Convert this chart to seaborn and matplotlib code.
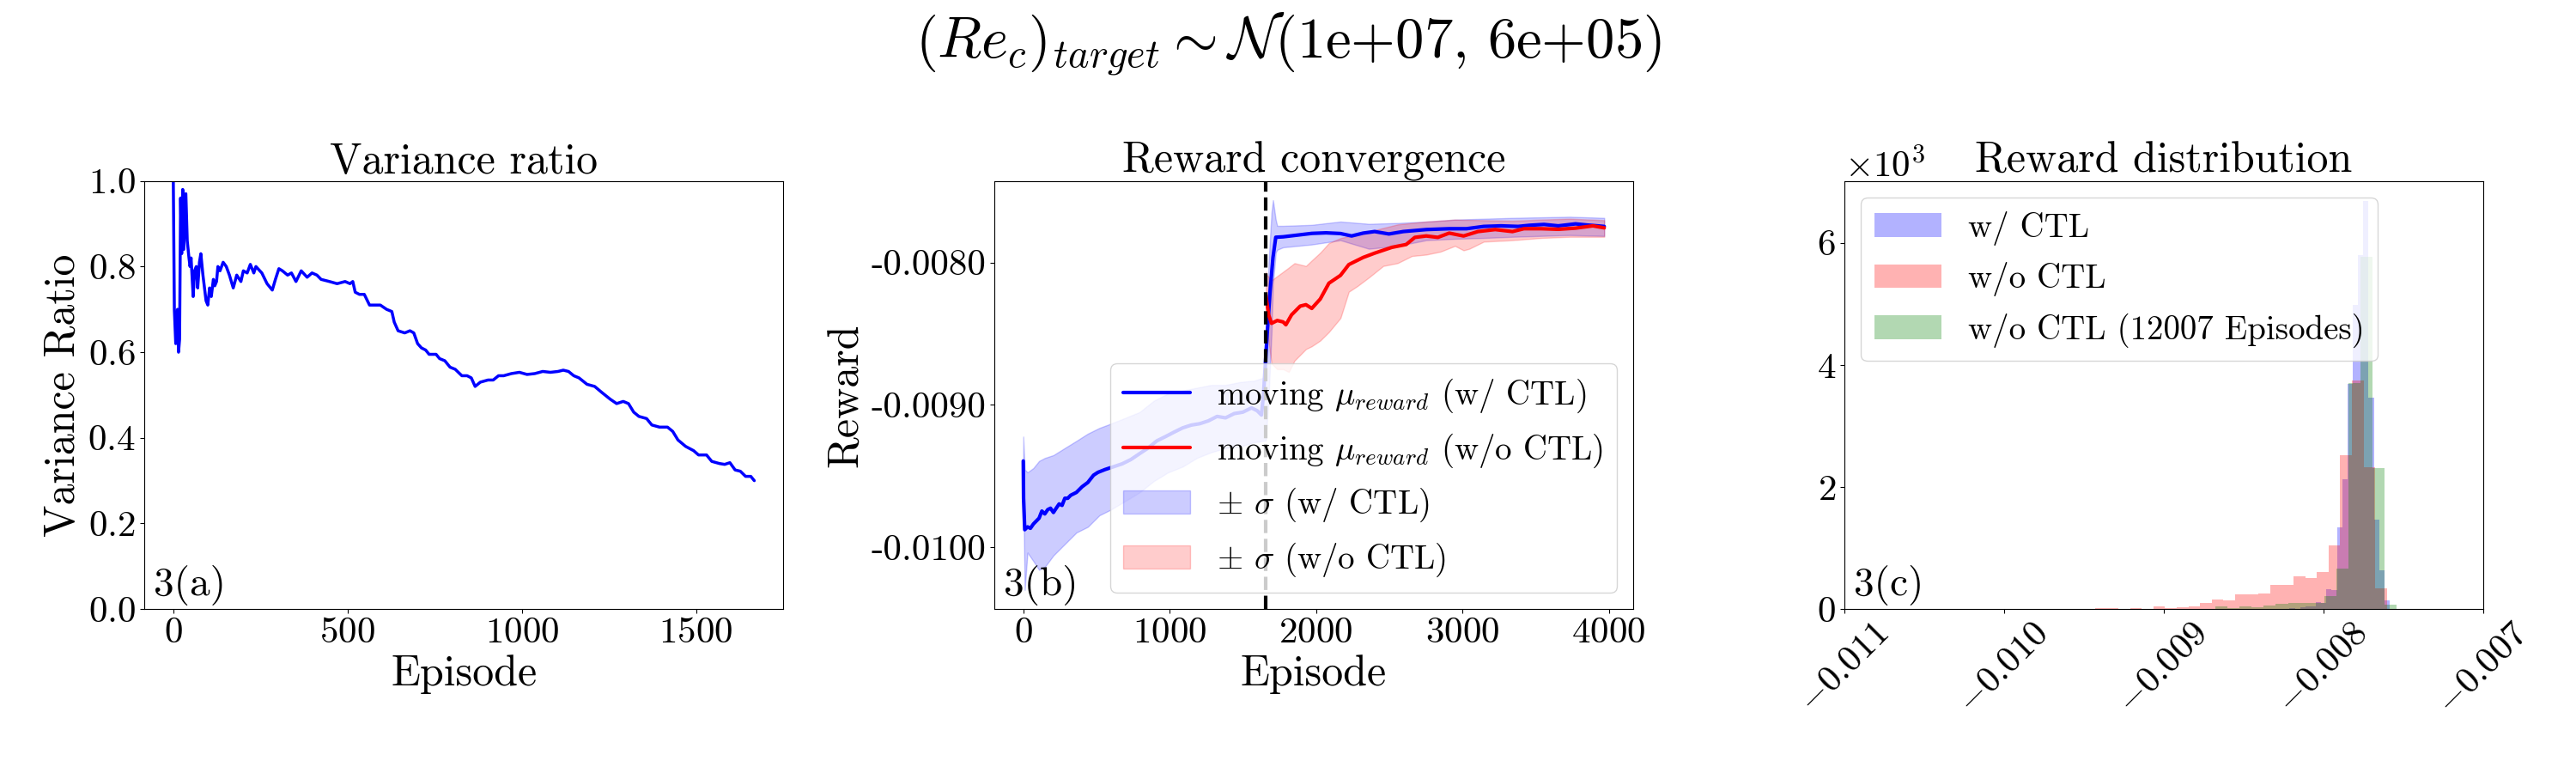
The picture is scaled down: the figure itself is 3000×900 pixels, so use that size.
import numpy as np
import pandas as pd
import seaborn as sns
import matplotlib
matplotlib.use("Agg")
import matplotlib.pyplot as plt
from matplotlib.ticker import FuncFormatter, FormatStrFormatter

# ---- 3(a) variance ratio ----
ratio_ep = [0, 3, 7, 12, 15, 18, 21, 24, 27, 30,
            36, 40, 45, 48, 51, 57, 61, 66, 70, 75,
            79, 85, 94, 99, 104, 109, 115, 119, 124, 128,
            134, 143, 152, 161, 172, 182, 194, 201, 212, 221,
            231, 237, 254, 269, 284, 293, 303, 313, 328, 339,
            352, 367, 384, 398, 412, 424, 448, 470, 493, 507,
            515, 522, 534, 548, 563, 582, 594, 612, 627, 634,
            645, 664, 679, 690, 701, 712, 724, 734, 754, 764,
            779, 794, 809, 828, 843, 855, 866, 881, 903, 918,
            933, 948, 970, 993, 1015, 1037, 1060, 1082, 1104, 1119,
            1134, 1149, 1164, 1187, 1209, 1231, 1254, 1272, 1291, 1306,
            1321, 1336, 1358, 1373, 1395, 1418, 1433, 1448, 1470, 1493,
            1507, 1530, 1545, 1567, 1582, 1597, 1612, 1627, 1642, 1657,
            1667]
ratio_vals = [1.00, 0.70, 0.62, 0.70, 0.60, 0.63, 0.96, 0.83, 0.98, 0.84,
              0.97, 0.86, 0.82, 0.80, 0.82, 0.73, 0.79, 0.80, 0.75, 0.81,
              0.83, 0.78, 0.72, 0.71, 0.75, 0.73, 0.77, 0.755, 0.765, 0.80,
              0.79, 0.81, 0.80, 0.78, 0.75, 0.78, 0.765, 0.79, 0.785, 0.805,
              0.785, 0.80, 0.785, 0.76, 0.745, 0.77, 0.795, 0.79, 0.78, 0.785,
              0.765, 0.79, 0.775, 0.785, 0.78, 0.77, 0.765, 0.76, 0.765, 0.76,
              0.765, 0.74, 0.735, 0.735, 0.71, 0.71, 0.71, 0.70, 0.695, 0.67,
              0.65, 0.645, 0.65, 0.645, 0.62, 0.61, 0.605, 0.595, 0.595, 0.585,
              0.58, 0.565, 0.56, 0.545, 0.545, 0.54, 0.52, 0.53, 0.535, 0.535,
              0.545, 0.545, 0.55, 0.553, 0.548, 0.55, 0.555, 0.553, 0.555, 0.558,
              0.555, 0.545, 0.54, 0.525, 0.52, 0.505, 0.49, 0.48, 0.485, 0.48,
              0.46, 0.45, 0.445, 0.43, 0.425, 0.425, 0.415, 0.395, 0.38, 0.37,
              0.36, 0.36, 0.345, 0.34, 0.338, 0.342, 0.325, 0.322, 0.31, 0.31,
              0.30]

# ---- 3(b) reward convergence ----
switch_episode = 1657

blue_ep = [0, 2, 10, 29, 49, 69, 88, 108, 127, 147,
           167, 186, 206, 225, 245, 265, 284, 304, 324, 363,
           402, 441, 480, 510, 559, 618, 676, 735, 794, 853,
           912, 971, 1029, 1088, 1147, 1206, 1265, 1324, 1382, 1441,
           1500, 1559, 1598, 1627, 1641, 1667, 1686, 1706, 1725, 1775,
           1873, 1971, 2069, 2167, 2243, 2322, 2400, 2498, 2596, 2753,
           2910, 3028, 3146, 3263, 3381, 3459, 3557, 3655, 3773, 3851,
           3969]
blue_mu = [-0.009394, -0.009656, -0.009877, -0.009857, -0.009867, -0.009837, -0.009817, -0.009796, -0.009746, -0.009766,
           -0.009736, -0.009726, -0.009756, -0.009726, -0.009696, -0.009706, -0.009656, -0.009656, -0.009635, -0.009615,
           -0.009575, -0.009545, -0.009494, -0.009474, -0.009454, -0.009434, -0.009414, -0.009384, -0.009343, -0.009303,
           -0.009253, -0.009223, -0.009192, -0.009162, -0.009142, -0.009132, -0.009112, -0.009081, -0.009091, -0.009061,
           -0.009051, -0.009021, -0.009041, -0.009071, -0.008930, -0.008487, -0.008205, -0.007963, -0.007822, -0.007819,
           -0.007807, -0.007795, -0.007791, -0.007796, -0.007813, -0.007793, -0.007782, -0.007799, -0.007782, -0.007768,
           -0.007762, -0.007762, -0.007746, -0.007742, -0.007746, -0.007738, -0.007732, -0.007742, -0.007728, -0.007736,
           -0.007746]

bband_ep = [0, 10, 29, 69, 108, 147, 206, 284, 363, 441,
            520, 598, 696, 794, 892, 990, 1088, 1186, 1284, 1382,
            1480, 1578, 1637, 1657, 1676, 1696, 1706, 1725, 1735, 1775,
            1971, 2167, 2361, 2557, 2753, 2949, 3146, 3342, 3538, 3734,
            3969]
bband_hi = [-0.009223, -0.009454, -0.009474, -0.009444, -0.009394, -0.009373, -0.009353, -0.009303, -0.009253, -0.009202,
            -0.009162, -0.009132, -0.009092, -0.009051, -0.008971, -0.008920, -0.008900, -0.008880, -0.008860, -0.008860,
            -0.008840, -0.008830, -0.008810, -0.008780, -0.008000, -0.007650, -0.007561, -0.007700, -0.007742, -0.007742,
            -0.007735, -0.007712, -0.007728, -0.007722, -0.007712, -0.007698, -0.007692, -0.007686, -0.007682, -0.007678,
            -0.007686]
bband_lo = [-0.009600, -0.010300, -0.010038, -0.010098, -0.010159, -0.010139, -0.010058, -0.009978, -0.009897, -0.009857,
            -0.009776, -0.009736, -0.009676, -0.009615, -0.009535, -0.009474, -0.009434, -0.009373, -0.009333, -0.009303,
            -0.009293, -0.009263, -0.009253, -0.009250, -0.008950, -0.008500, -0.008150, -0.007930, -0.007910, -0.007893,
            -0.007873, -0.007843, -0.007903, -0.007883, -0.007843, -0.007833, -0.007827, -0.007819, -0.007813, -0.007807,
            -0.007813]

red_ep = [1657, 1676, 1696, 1735, 1775, 1794, 1833, 1892, 1931, 1971,
          2029, 2088, 2167, 2224, 2322, 2400, 2518, 2616, 2675, 2753,
          2832, 2910, 3008, 3106, 3224, 3342, 3420, 3538, 3655, 3773,
          3891, 3969]
red_mu = [-0.008226, -0.008367, -0.008427, -0.008407, -0.008417, -0.008437, -0.008367, -0.008306, -0.008296, -0.008322,
          -0.008256, -0.008145, -0.008090, -0.008014, -0.007964, -0.007934, -0.007893, -0.007873, -0.007823, -0.007813,
          -0.007823, -0.007793, -0.007813, -0.007782, -0.007768, -0.007782, -0.007762, -0.007762, -0.007766, -0.007758,
          -0.007742, -0.007756]

rband_ep = [1657, 1667, 1696, 1735, 1775, 1814, 1853, 1931, 1971, 2029,
            2088, 2167, 2224, 2283, 2361, 2459, 2557, 2655, 2753, 2851,
            2949, 3008, 3047, 3146, 3342, 3538, 3734, 3969]
rband_hi = [-0.008065, -0.008090, -0.008125, -0.008095, -0.008065, -0.008035, -0.008004, -0.008024, -0.007985, -0.007930,
            -0.007863, -0.007828, -0.007815, -0.007800, -0.007782, -0.007757, -0.007732, -0.007722, -0.007712, -0.007705,
            -0.007698, -0.007700, -0.007700, -0.007702, -0.007706, -0.007698, -0.007692, -0.007702]
rband_lo = [-0.008300, -0.008488, -0.008709, -0.008749, -0.008749, -0.008769, -0.008689, -0.008608, -0.008588, -0.008548,
            -0.008488, -0.008390, -0.008205, -0.008165, -0.008105, -0.008024, -0.008004, -0.007954, -0.007944, -0.007923,
            -0.007883, -0.007914, -0.007903, -0.007853, -0.007843, -0.007827, -0.007819, -0.007819]

# ---- 3(c) reward distribution (density histograms) ----
hist_blue_range = (-0.0082124, -0.0075862)
hist_blue_dens = [14, 0, 30, 40, 45, 113, 100, 324, 314, 1346,
                  2120, 3690, 4980, 5800, 6680, 3460, 1463, 642, 150]
hist_red_range = (-0.009430, -0.0076025)
hist_red_dens = [14, 14, 0, 14, 0, 42, 14, 28, 38, 98,
                 155, 141, 239, 239, 253, 394, 394, 535, 506, 605,
                 1041, 2520, 3747, 2330, 338]
hist_green_range = (-0.008828, -0.0075411)
hist_green_dens = [9, 9, 42, 23, 38, 33, 56, 84, 98, 100,
                   100, 216, 666, 3700, 5764, 2307, 70]


sns.set_style("ticks")
plt.rcParams.update({
    "font.family": "serif",
    "font.serif": ["cmr10"],
    "mathtext.fontset": "cm",
    "axes.unicode_minus": False,
    "axes.formatter.use_mathtext": True,
    "axes.edgecolor": "black",
    "axes.labelcolor": "black",
    "text.color": "black",
    "xtick.color": "black",
    "ytick.color": "black",
    "axes.linewidth": 0.8,
    "xtick.major.size": 3.5,
    "ytick.major.size": 3.5,
    "xtick.major.width": 0.8,
    "ytick.major.width": 0.8,
    "xtick.labelsize": 31,
    "ytick.labelsize": 31,
    "axes.titlesize": 36,
    "axes.labelsize": 36,
    "legend.fontsize": 28,
})

fig, axes = plt.subplots(1, 3, figsize=(30, 9), dpi=100)
fig.subplots_adjust(left=0.056, right=0.964, bottom=0.212, top=0.766, wspace=0.33)
ax1, ax2, ax3 = axes

# 3(a)
sns.lineplot(x=ratio_ep, y=ratio_vals, color="blue", linewidth=2.5, ax=ax1)
ax1.set_ylim(0, 1)
ax1.set_xticks([0, 500, 1000, 1500])
ax1.set_title("Variance ratio")
ax1.set_xlabel("Episode")
ax1.set_ylabel("Variance Ratio")
ax1.text(0.015, 0.008, "3(a)", transform=ax1.transAxes, fontsize=34, ha="left", va="bottom")

# 3(b)
sns.lineplot(x=blue_ep, y=blue_mu, color="blue", linewidth=3, ax=ax2,
             label=r"moving $\mu_{reward}$ (w/ CTL)")
sns.lineplot(x=red_ep, y=red_mu, color="red", linewidth=3, ax=ax2,
             label=r"moving $\mu_{reward}$ (w/o CTL)")
ax2.fill_between(bband_ep, bband_lo, bband_hi, color="blue", alpha=0.2, label=r"$\pm$ $\sigma$ (w/ CTL)")
ax2.fill_between(rband_ep, rband_lo, rband_hi, color="red", alpha=0.2, label=r"$\pm$ $\sigma$ (w/o CTL)")
ax2.axvline(switch_episode, color="black", linestyle="--", linewidth=3)
ax2.set_ylim(-0.010435, -0.007426)
ax2.set_yticks([-0.0100, -0.0090, -0.0080])
ax2.yaxis.set_major_formatter(FormatStrFormatter("%.4f"))
ax2.set_xticks([0, 1000, 2000, 3000, 4000])
ax2.set_title("Reward convergence")
ax2.set_xlabel("Episode")
ax2.set_ylabel("Reward")
ax2.legend(loc="lower right")
ax2.text(0.015, 0.008, "3(b)", transform=ax2.transAxes, fontsize=34, ha="left", va="bottom")

# 3(c)
for rng, dens, col, lab in [(hist_blue_range, hist_blue_dens, "blue", "w/ CTL"),
                            (hist_red_range, hist_red_dens, "red", "w/o CTL"),
                            (hist_green_range, hist_green_dens, "green", "w/o CTL (12007 Episodes)")]:
    edges = np.linspace(rng[0], rng[1], len(dens) + 1)
    df = pd.DataFrame({"reward": (edges[:-1] + edges[1:]) / 2, "density": dens})
    sns.histplot(data=df, x="reward", weights="density", bins=edges.tolist(), color=col,
                 alpha=0.3, linewidth=0, label=lab, ax=ax3)
ax3.set_xlim(-0.011, -0.007)
ax3.set_xticks([-0.011, -0.010, -0.009, -0.008, -0.007])
ax3.xaxis.set_major_formatter(FuncFormatter(lambda v, p: r"$%.3f$" % v))
ax3.tick_params(axis="x", labelrotation=45)
ax3.ticklabel_format(axis="y", style="sci", scilimits=(0, 0), useMathText=True)
ax3.set_xlabel("")
ax3.set_ylabel("")
ax3.set_title("Reward distribution")
ax3.legend(loc="upper left")
ax3.text(0.015, 0.008, "3(c)", transform=ax3.transAxes, fontsize=34, ha="left", va="bottom")

fig.suptitle(r"$(Re_c)_{target} \sim \mathcal{N}$(1e+07, 6e+05)", fontsize=48, y=0.943, va="center")

plt.savefig("out.png", dpi=100)
